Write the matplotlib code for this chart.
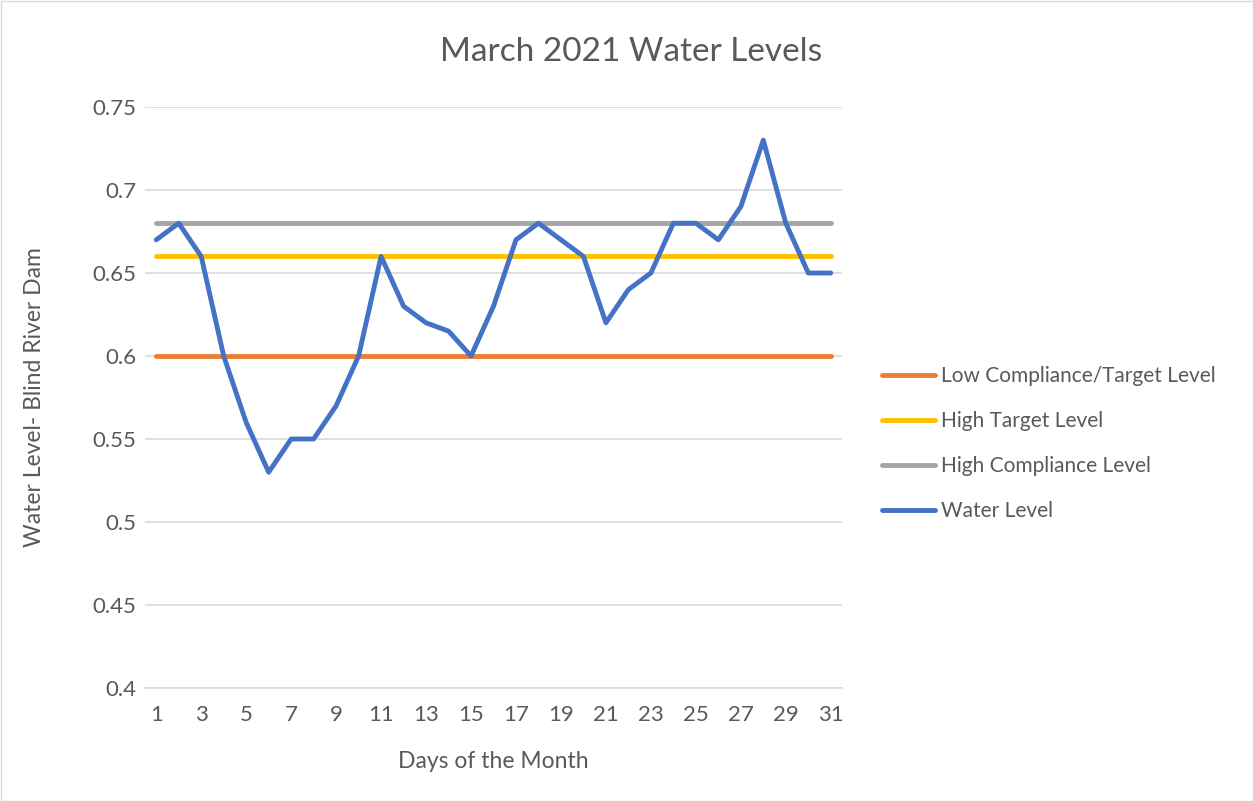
import matplotlib.pyplot as plt
import numpy as np

days = np.arange(1, 32)
water = [0.67, 0.68, 0.66, 0.60, 0.56, 0.53, 0.55, 0.55, 0.57, 0.60,
         0.66, 0.63, 0.62, 0.615, 0.60, 0.63, 0.67, 0.68, 0.67, 0.66,
         0.62, 0.64, 0.65, 0.68, 0.68, 0.67, 0.69, 0.73, 0.68, 0.65, 0.65]
low_target = [0.60] * 31
high_target = [0.66] * 31
high_compliance = [0.68] * 31

plt.rcParams['font.family'] = ['Lato', 'DejaVu Sans']
txt = '#595959'

fig = plt.figure(figsize=(12.53, 8.01), dpi=100)
ax = fig.add_axes([145/1253, 1 - 688/801, (842-145)/1253, (688-107)/801])

lw = 3.5
ax.plot(days, low_target, color='#ED7D31', lw=lw, solid_capstyle='round', label='Low Compliance/Target Level')
ax.plot(days, high_target, color='#FFC000', lw=lw, solid_capstyle='round', label='High Target Level')
ax.plot(days, high_compliance, color='#A5A5A5', lw=lw, solid_capstyle='round', label='High Compliance Level')
ax.plot(days, water, color='#4472C4', lw=lw, solid_capstyle='round', solid_joinstyle='round', label='Water Level')

ax.set_xlim(0.5, 31.5)
ax.set_ylim(0.4, 0.75)
ax.set_yticks(np.arange(0.4, 0.751, 0.05))
ax.set_yticklabels(['0.4', '0.45', '0.5', '0.55', '0.6', '0.65', '0.7', '0.75'])
ax.set_xticks(np.arange(1, 32, 2))
ax.grid(axis='y', color='#D9D9D9', lw=1.2)
ax.set_axisbelow(True)
for s in ['top', 'right', 'left']:
    ax.spines[s].set_visible(False)
ax.spines['bottom'].set_color('#D9D9D9')
ax.spines['bottom'].set_linewidth(1.2)
ax.tick_params(axis='y', length=0, labelsize=16, colors=txt, pad=6)
ax.tick_params(axis='x', length=0, labelsize=16, colors=txt, pad=12)

ax.set_xlabel('Days of the Month', fontsize=16.5, color=txt, labelpad=19)
ax.set_ylabel('Water Level- Blind River Dam', fontsize=16.5, color=txt, labelpad=34)
fig.text(631/1253, 1 - 52/801, 'March 2021 Water Levels', fontsize=24, color=txt, ha='center', va='center')

leg = fig.legend(loc='upper left', bbox_to_anchor=(882/1253, 1 - 366/801), frameon=False,
                 borderpad=0, borderaxespad=0,
                 fontsize=15, handlelength=2.55, handletextpad=0.3, labelspacing=1.2)
for t in leg.get_texts():
    t.set_color(txt)

fig.patches.append(plt.Rectangle((0.5/1253, 0.5/801), 1 - 1/1253, 1 - 1/801, transform=fig.transFigure,
                                 fill=False, edgecolor='#D9D9D9', lw=1))

fig.savefig('out.png', dpi=100)
